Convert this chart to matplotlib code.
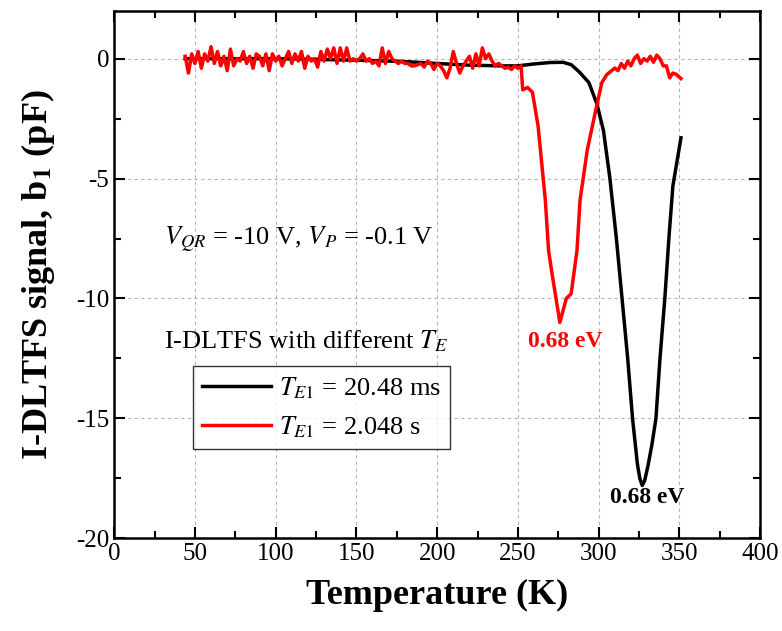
import numpy as np
import matplotlib
matplotlib.use('Agg')
import matplotlib.pyplot as plt
from matplotlib.ticker import MultipleLocator

plt.rcParams['font.family'] = ['Liberation Serif', 'DejaVu Serif']
plt.rcParams['mathtext.fontset'] = 'stix'
plt.rcParams['axes.unicode_minus'] = False

# black curve: T_E1 = 20.48 ms
temp_black = [44, 60, 80, 100, 120, 140, 160, 180, 200, 220, 240, 250, 260, 270, 278,
              283, 288, 294, 299, 303, 307, 311, 314.5, 318, 321, 324, 325.5, 327,
              328.5, 330.5, 333, 335.5, 338, 341, 343.5, 346, 351]
sig_black = [0.0, 0.0, 0.0, 0.0, -0.02, -0.05, -0.08, -0.12, -0.2, -0.27, -0.3, -0.3, -0.22, -0.16, -0.15,
             -0.25, -0.55, -1.0, -1.9, -3.0, -5.0, -7.5, -10.0, -12.5, -15.0, -16.9, -17.5, -17.8,
             -17.6, -17.0, -16.1, -15.0, -12.5, -10.0, -7.5, -5.3, -3.3]

# red curve: T_E1 = 2.048 s
temp_red_flat = list(range(44, 252, 2))
sig_red_flat = [0.1, -0.6, 0.2, -0.2, 0.3, -0.4, 0.2, -0.1, 0.5, -0.2,
                0.3, -0.3, 0.1, -0.5, 0.4, -0.3, 0.0, -0.1, 0.3, -0.2,
                0.1, -0.4, 0.2, 0.1, -0.3, 0.2, -0.5, 0.2, -0.1, 0.1,
                -0.3, 0.0, 0.3, -0.2, 0.2, -0.1, 0.3, -0.4, 0.1, -0.1,
                0.0, -0.35, 0.3, -0.1, 0.4, 0.0, 0.45, -0.2, 0.45, -0.1,
                0.45, -0.1, 0.0, -0.1, 0.0, 0.2, -0.1, 0.0, -0.2, -0.1,
                -0.3, 0.45, -0.2, 0.3, 0.0, -0.1, -0.2, -0.1, -0.2, -0.2,
                -0.3, -0.3, -0.25, -0.2, -0.35, -0.1, -0.2, -0.45, -0.2, -0.3,
                -0.5, -0.8, -0.4, 0.3, -0.2, -0.6, -0.3, -0.1, 0.1, -0.4,
                0.2, -0.3, 0.45, 0.0, 0.2, -0.1, -0.3, -0.2, -0.3, -0.4,
                -0.35, -0.45, -0.3, -0.4]
temp_red_dip = [252, 253, 256, 259, 262.5, 265, 267, 269, 271, 276, 280, 283, 286.6, 288.5,
                293, 299, 302, 305, 310, 312, 314, 316, 318, 320, 322, 324, 326, 328, 330,
                332, 334, 336, 338, 340, 342, 344, 346, 348, 351]
sig_red_dip = [-0.3, -1.3, -1.2, -1.4, -2.8, -4.5, -5.9, -8.0, -8.9, -11.0, -10.0, -9.8, -8.0, -5.9,
               -3.8, -1.9, -1.0, -0.67, -0.39, -0.5, -0.2, -0.4, -0.1, -0.3, 0.0, 0.15, -0.2, 0.0, -0.1,
               0.1, -0.15, 0.15, 0.0, -0.3, -0.3, -0.8, -0.6, -0.65, -0.83]
temp_red = temp_red_flat + temp_red_dip
sig_red = sig_red_flat + sig_red_dip

fig = plt.figure(figsize=(7.82, 6.31), dpi=100)
ax = fig.add_axes([0.146, 0.147, 0.826, 0.836])

ax.plot(temp_black, sig_black, color='black', lw=2.5, label=r'$T_{E\mathit{1}}$ = 20.48 ms')
ax.plot(temp_red, sig_red, color='#ff0000', lw=2.5, label=r'$T_{E\mathit{1}}$ = 2.048 s')

ax.set_xlim(0, 400)
ax.set_ylim(-20, 2)
ax.xaxis.set_major_locator(MultipleLocator(50))
ax.xaxis.set_minor_locator(MultipleLocator(25))
ax.yaxis.set_major_locator(MultipleLocator(5))
ax.yaxis.set_minor_locator(MultipleLocator(2.5))
ax.tick_params(which='both', direction='in', top=True, right=True, labelsize=18, width=1.5)
ax.tick_params(which='major', length=8)
ax.tick_params(which='minor', length=5)
for s in ax.spines.values():
    s.set_linewidth(1.8)
ax.grid(True, which='major', ls=(0, (3, 3)), color='#b4b4b4', lw=0.8)

ax.set_xlabel('Temperature (K)', fontsize=26, fontweight='bold', labelpad=10)
ax.set_ylabel(r'I-DLTFS signal, b$_\mathbf{1}$ (pF)', fontsize=26, fontweight='bold', labelpad=14)

ax.text(31, -7.55, r'$V_{QR}$ = -10 V, $V_P$ = -0.1 V', fontsize=19, va='center')
ax.text(31, -11.8, r'I-DLTFS with different $T_E$', fontsize=19, va='center')
ax.text(279, -11.8, '0.68 eV', fontsize=17, fontweight='bold', color='#ff0000', ha='center', va='center')
ax.text(330, -18.3, '0.68 eV', fontsize=17, fontweight='bold', color='black', ha='center', va='center')

leg = ax.legend(loc='upper left', bbox_to_anchor=(0.122, 0.326), fontsize=19, frameon=True,
                fancybox=False, edgecolor='black', handlelength=2.6, borderpad=0.35,
                labelspacing=0.5, handletextpad=0.3, borderaxespad=0)
leg.get_frame().set_linewidth(1.0)

fig.savefig('out.png', dpi=100)
